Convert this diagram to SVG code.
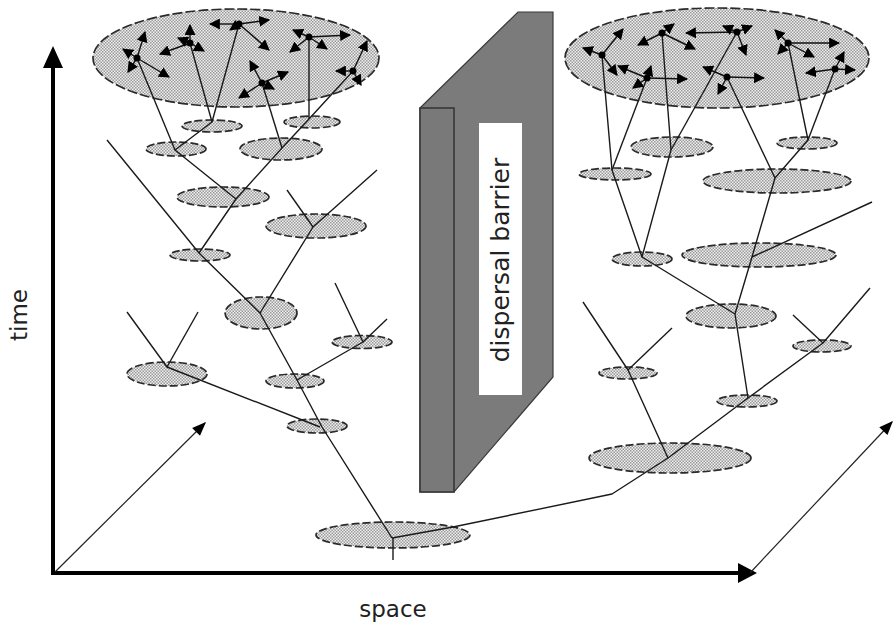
<svg xmlns="http://www.w3.org/2000/svg" width="894" height="628" viewBox="0 0 894 628">
<defs>
<pattern id="stip" width="3" height="3" patternUnits="userSpaceOnUse"><rect width="3" height="3" fill="#efefef"/><rect width="1.5" height="1.5" fill="#9a9a9a"/><rect x="1.5" y="1.5" width="1.5" height="1.5" fill="#9a9a9a"/></pattern>
<marker id="ah" viewBox="0 0 10 10" refX="9" refY="5" markerWidth="11" markerHeight="11" markerUnits="userSpaceOnUse" orient="auto"><path d="M0,0 L10,5 L0,10 z" fill="#000"/></marker>
<marker id="ahb" viewBox="0 0 10 10" refX="9" refY="5" markerWidth="15" markerHeight="14" markerUnits="userSpaceOnUse" orient="auto"><path d="M0,1 L10,5 L0,9 z" fill="#000"/></marker>
<style>
.pop{fill:url(#stip);stroke:#2a2a2a;stroke-width:1.7;stroke-dasharray:8 3}
.big{fill:url(#stip);stroke:#2a2a2a;stroke-width:1.7;stroke-dasharray:10 3}
.ln{fill:none;stroke:#1a1a1a;stroke-width:1.4;stroke-linejoin:round}
.arr{fill:none;stroke:#111;stroke-width:1.4;marker-end:url(#ah)}
.dot{fill:#000}
.lbl{font-family:"DejaVu Sans","Open Sans",sans-serif;font-size:23px;fill:#222}
.bar{font-size:25px}
</style>
</defs>
<rect width="894" height="628" fill="#fff"/>

<!-- axes -->
<g id="axes">
<line x1="53" y1="575" x2="53" y2="66" stroke="#000" stroke-width="4"/>
<polygon points="43,68 53,46 63,68" fill="#000"/>
<line x1="51" y1="573" x2="740" y2="573" stroke="#000" stroke-width="4"/>
<polygon points="738,563 757,573 738,583" fill="#000"/>
<line x1="55" y1="572" x2="205" y2="423" stroke="#222" stroke-width="1.2" marker-end="url(#ahb)"/>
<line x1="750" y1="573" x2="892" y2="422" stroke="#222" stroke-width="1.2" marker-end="url(#ahb)"/>
</g>
<text class="lbl" transform="translate(27,315) rotate(-90)" text-anchor="middle">time</text>
<text class="lbl" x="393" y="617" text-anchor="middle">space</text>

<!-- barrier -->
<g id="barrier">
<polygon points="420,108 518,12 553,12 553,377 454,492 420,492" fill="#7b7b7b" stroke="#3a3a3a" stroke-width="1.2"/>
<rect x="420" y="108" width="34" height="384" fill="#797979" stroke="#333" stroke-width="1.5"/>
<rect x="479" y="123" width="43" height="272" fill="#fff"/>
<text class="lbl bar" transform="translate(509,260) rotate(-90)" text-anchor="middle">dispersal barrier</text>
</g>

<!-- left lineage populations -->
<g id="L0"><ellipse class="big" cx="236" cy="58" rx="143" ry="49"/></g>
<g id="L1"><ellipse class="pop" cx="212" cy="126" rx="30" ry="6"/></g>
<g id="L2"><ellipse class="pop" cx="176" cy="149" rx="30" ry="7"/></g>
<g id="L3"><ellipse class="pop" cx="312" cy="122" rx="28" ry="6"/></g>
<g id="L4"><ellipse class="pop" cx="281" cy="149" rx="41" ry="11"/></g>
<g id="L5"><ellipse class="pop" cx="223" cy="197" rx="46" ry="10"/></g>
<g id="L6"><ellipse class="pop" cx="316" cy="226" rx="50" ry="12"/></g>
<g id="L7"><ellipse class="pop" cx="200" cy="255" rx="30" ry="6"/></g>
<g id="L8"><ellipse class="pop" cx="261" cy="313" rx="36" ry="16"/></g>
<g id="L9"><ellipse class="pop" cx="362" cy="342" rx="30" ry="6.5"/></g>
<g id="L10"><ellipse class="pop" cx="167" cy="374" rx="40" ry="12"/></g>
<g id="L11"><ellipse class="pop" cx="295" cy="381" rx="29" ry="7"/></g>
<g id="L12"><ellipse class="pop" cx="317" cy="426" rx="30" ry="7"/></g>
<g id="root"><ellipse class="pop" cx="393" cy="535" rx="77" ry="13"/></g>

<!-- right lineage populations -->
<g id="R0"><ellipse class="big" cx="717" cy="58" rx="152" ry="50"/></g>
<g id="R1"><ellipse class="pop" cx="672" cy="147" rx="41" ry="10"/></g>
<g id="R2"><ellipse class="pop" cx="807" cy="143" rx="30" ry="6"/></g>
<g id="R3"><ellipse class="pop" cx="615" cy="174" rx="36" ry="6"/></g>
<g id="R4"><ellipse class="pop" cx="777" cy="181" rx="74" ry="12"/></g>
<g id="R5"><ellipse class="pop" cx="642" cy="259" rx="30" ry="7"/></g>
<g id="R6"><ellipse class="pop" cx="759" cy="255" rx="77" ry="12"/></g>
<g id="R7"><ellipse class="pop" cx="731" cy="316" rx="45" ry="12"/></g>
<g id="R8"><ellipse class="pop" cx="822" cy="346" rx="29" ry="6"/></g>
<g id="R9"><ellipse class="pop" cx="628" cy="373" rx="29" ry="6"/></g>
<g id="R10"><ellipse class="pop" cx="747" cy="401" rx="30" ry="6"/></g>
<g id="R11"><ellipse class="pop" cx="670" cy="458" rx="81" ry="15"/></g>

<!-- connectors -->
<g id="connectors" class="ln">
<polyline points="137,58 175,150 236,199"/>
<polyline points="190,43 212,122"/>
<polyline points="239,24 212,122 175,150"/>
<polyline points="309,37 309,119"/>
<polyline points="353,71 309,119 282,148 236,199 199,253"/>
<polyline points="262,83 282,148"/>
<polyline points="107,140 199,253 260,313 297,380 322,427 392,538"/>
<polyline points="260,313 313,227 377,170"/>
<polyline points="287,190 313,227"/>
<polyline points="335,283 363,342 297,380"/>
<polyline points="387,319 363,342"/>
<polyline points="127,312 167,367 320,427"/>
<polyline points="198,312 167,367"/>
<polyline points="393,538 393,560"/>
<polyline points="392,538 453,527 612,494 668,458 748,398 823,343 870,288"/>
<polyline points="602,55 612,170 642,257 735,314 748,398"/>
<polyline points="647,78 612,170"/>
<polyline points="662,33 671,150 642,257"/>
<polyline points="737,32 671,150"/>
<polyline points="727,77 775,178 752,257 735,314"/>
<polyline points="788,43 808,140 775,178"/>
<polyline points="835,69 808,140"/>
<polyline points="872,202 752,257"/>
<polyline points="793,315 823,343"/>
<polyline points="583,302 628,370 668,458"/>
<polyline points="672,328 628,370"/>
</g>

<!-- dispersal arrows inside top populations -->
<g id="dispersal-left">
<path class="arr" d="M137,58 L145,32"/>
<path class="arr" d="M137,58 L123,49"/>
<path class="arr" d="M137,58 L128,72"/>
<path class="arr" d="M137,58 L169,77"/>
<circle class="dot" cx="137" cy="58" r="3.5"/>
<path class="arr" d="M190,43 L190,25"/>
<path class="arr" d="M190,43 L160,54"/>
<path class="arr" d="M190,43 L178,38"/>
<path class="arr" d="M190,43 L204,51"/>
<circle class="dot" cx="190" cy="43" r="3.5"/>
<path class="arr" d="M239,24 L210,24"/>
<path class="arr" d="M239,24 L269,20"/>
<path class="arr" d="M239,24 L269,50"/>
<path class="arr" d="M239,24 L230,30"/>
<circle class="dot" cx="239" cy="24" r="3.5"/>
<path class="arr" d="M309,37 L350,35"/>
<path class="arr" d="M309,37 L293,30"/>
<path class="arr" d="M309,37 L290,52"/>
<path class="arr" d="M309,37 L327,49"/>
<circle class="dot" cx="309" cy="37" r="3.5"/>
<path class="arr" d="M262,83 L250,61"/>
<path class="arr" d="M262,83 L288,72"/>
<path class="arr" d="M262,83 L239,98"/>
<path class="arr" d="M262,83 L274,89"/>
<circle class="dot" cx="262" cy="83" r="3.5"/>
<path class="arr" d="M353,71 L336,71"/>
<path class="arr" d="M353,71 L367,41"/>
<path class="arr" d="M353,71 L361,85"/>
<circle class="dot" cx="353" cy="71" r="3.5"/>
</g>
<g id="dispersal-right">
<path class="arr" d="M602,55 L583,48"/>
<path class="arr" d="M602,55 L623,29"/>
<path class="arr" d="M602,55 L617,75"/>
<circle class="dot" cx="602" cy="55" r="3.5"/>
<path class="arr" d="M647,78 L687,79"/>
<path class="arr" d="M647,78 L633,88"/>
<path class="arr" d="M647,78 L651,66"/>
<path class="arr" d="M647,78 L618,66"/>
<circle class="dot" cx="647" cy="78" r="3.5"/>
<path class="arr" d="M662,33 L638,45"/>
<path class="arr" d="M662,33 L674,24"/>
<path class="arr" d="M662,33 L695,49"/>
<circle class="dot" cx="662" cy="33" r="3.5"/>
<path class="arr" d="M737,32 L686,33"/>
<path class="arr" d="M737,32 L723,26"/>
<path class="arr" d="M737,32 L752,26"/>
<path class="arr" d="M737,32 L746,55"/>
<circle class="dot" cx="737" cy="32" r="3.5"/>
<path class="arr" d="M727,77 L764,78"/>
<path class="arr" d="M727,77 L703,67"/>
<path class="arr" d="M727,77 L718,94"/>
<circle class="dot" cx="727" cy="77" r="3.5"/>
<path class="arr" d="M788,43 L839,43"/>
<path class="arr" d="M788,43 L775,30"/>
<path class="arr" d="M788,43 L778,54"/>
<path class="arr" d="M788,43 L814,57"/>
<circle class="dot" cx="788" cy="43" r="3.5"/>
<path class="arr" d="M835,69 L855,70"/>
<path class="arr" d="M835,69 L844,52"/>
<path class="arr" d="M835,69 L806,73"/>
<circle class="dot" cx="835" cy="69" r="3.5"/>
</g>
</svg>
